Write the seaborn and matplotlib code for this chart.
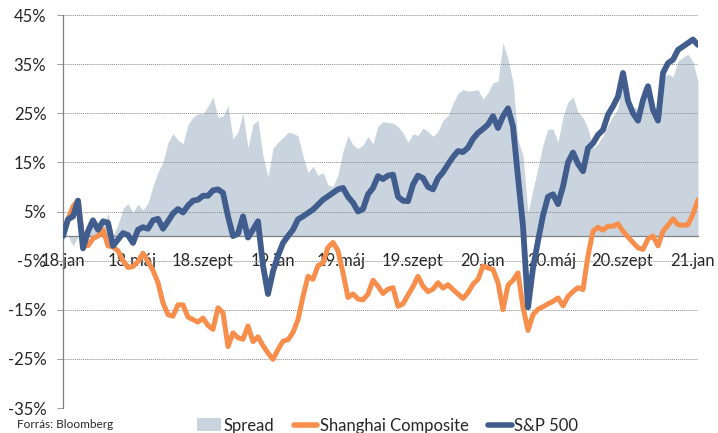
import pandas as pd
import matplotlib
matplotlib.use('Agg')
import matplotlib.pyplot as plt
from matplotlib.patches import Patch
from matplotlib.lines import Line2D
import seaborn as sns

sns.set_style('white')
plt.rcParams['font.family'] = ['Lato', 'DejaVu Sans']

# data (percent change since 2018 jan)
start_date = '2018-01-01'
end_date = '2021-01-11'
n_points = 128

sp500 = [
    0, 3.4, 4, 7.2, -2.5, 1, 3.2, 1.3,
    3, 2.7, -2, -0.7, 0.6, 0.2, -1.4, 1.3,
    1.8, 1.5, 3.2, 3.5, 1.5, 3, 4.6, 5.5,
    4.8, 6.2, 7.2, 7.4, 8.2, 8.2, 9.3, 9.5,
    8.8, 4, 0, 0.5, 4, -0.3, 1.3, 3,
    -6, -11.8, -7.2, -4, -1.4, 0, 1.3, 3.4,
    4, 4.7, 5.4, 6.4, 7.4, 8.1, 8.8, 9.5,
    9.8, 8, 6.8, 5, 5.5, 8.5, 9.8, 12.2,
    11.6, 12.3, 12.5, 8, 7.2, 7.1, 10.5, 12.3,
    11.8, 10, 9.5, 11.8, 13, 14.6, 16.1, 17.3,
    17.1, 18, 19.8, 21, 21.8, 22.7, 24.4, 22,
    24.4, 26, 22.3, 12, 2, -14.5, -6.5, -1,
    4.2, 8, 8.5, 6.5, 10.1, 15, 17, 14.7,
    13.2, 17.9, 18.9, 20.6, 21.6, 24.7, 26.4, 28.4,
    33.2, 27.5, 25, 23.5, 27.7, 30.5, 25.7, 23.5,
    33.2, 35.2, 35.9, 37.9, 38.6, 39.3, 40, 38.9,
]

shanghai = [
    0, 3.4, 6, 7.3, -1, -2, -0.5, 0,
    1.3, -2, -2.2, -3, -5, -6.4, -6.2, -5.2,
    -3.5, -5.2, -7, -9.5, -13.6, -16, -16.3, -14,
    -14, -16.5, -17, -17.5, -16.7, -18.2, -19, -14.6,
    -15.6, -22.5, -19.7, -20.7, -21, -18.3, -21.5, -20.5,
    -22.3, -23.8, -25.1, -23.1, -21.4, -21.1, -19.6, -17,
    -12.3, -8.2, -8.8, -6, -5.5, -2.3, -1.3, -3,
    -7.5, -12.5, -11.8, -12.8, -13, -11.8, -9, -10.2,
    -11.7, -10.8, -10.5, -14.3, -13.8, -12, -10.3, -8.2,
    -10.2, -11.3, -10.8, -9.5, -10.6, -9.9, -10.9, -11.8,
    -12.7, -11.5, -9.8, -8.8, -6.1, -6.5, -6.8, -9.5,
    -15, -10, -9, -7.5, -14.5, -19.2, -16, -14.9,
    -14.4, -13.8, -13.3, -12.6, -14.2, -12.3, -11.3, -10.5,
    -10.9, -4, 1, 1.8, 1.2, 2, 2, 2.5,
    1, -0.2, -1.3, -2.4, -2.7, -0.6, 0, -2,
    1, 2.2, 3.5, 2.3, 2.2, 2.3, 4.5, 7.4,
]

spread = [
    0, 0, -2, -0.1, -1.5, 3, 3.7, 1.3,
    1.7, 4.7, 0.2, 2.3, 5.6, 6.6, 4.8, 6.5,
    5.3, 6.7, 10.2, 13, 15.1, 19, 20.9, 19.5,
    18.8, 22.7, 24.2, 24.9, 24.9, 26.4, 28.3, 24.1,
    24.4, 26.5, 19.7, 21.2, 25, 18, 22.8, 23.5,
    16.3, 12, 17.9, 19.1, 20, 21.1, 20.9, 20.4,
    16.3, 12.9, 14.2, 12.4, 12.9, 10.4, 10.1, 12.5,
    17.3, 20.5, 18.6, 17.8, 18.5, 20.3, 18.8, 22.4,
    23.3, 23.1, 23, 22.3, 21, 19.1, 20.8, 20.5,
    22, 21.3, 20.3, 21.3, 23.6, 24.5, 27, 29.1,
    29.8, 29.5, 29.6, 29.8, 27.9, 29.2, 31.2, 31.5,
    39.4, 36, 31.3, 19.5, 16.5, 4.7, 9.5, 13.9,
    18.6, 21.8, 21.8, 19.1, 24.3, 27.3, 28.3, 25.2,
    24.1, 21.9, 17.9, 18.8, 20.4, 22.7, 24.4, 25.9,
    32.2, 27.7, 26.3, 25.9, 30.4, 31.1, 25.7, 25.5,
    32.2, 33, 32.4, 35.6, 36.4, 37, 35.5, 31.5,
]

tick_dates = ['2018-01-01', '2018-05-01', '2018-09-01', '2019-01-01', '2019-05-01',
              '2019-09-01', '2020-01-01', '2020-05-01', '2020-09-01', '2021-01-01']
tick_labels = ['18.jan', '18.máj', '18.szept', '19.jan', '19.máj',
               '19.szept', '20.jan', '20.máj', '20.szept', '21.jan']
y_ticks = [-35, -25, -15, -5, 5, 15, 25, 35, 45]

col_spread = '#cad4df'
col_sh = '#f78e4b'
col_sp = '#405d8e'
col_text = '#262626'

df = pd.DataFrame({
    'date': pd.date_range(start_date, end_date, periods=n_points),
    'sp': sp500,
    'sh': shanghai,
    'spread': spread,
})

fig = plt.figure(figsize=(7.18, 4.33), dpi=100)
ax = fig.add_axes([63 / 718, 1 - 408 / 433, 635 / 718, 393 / 433])

ax.fill_between(df['date'], 0, df['spread'], color=col_spread, lw=0, zorder=0.3)
sns.lineplot(data=df, x='date', y='sh', color=col_sh, lw=3.6, ax=ax, zorder=3,
             solid_joinstyle='round', solid_capstyle='round')
sns.lineplot(data=df, x='date', y='sp', color=col_sp, lw=4.2, ax=ax, zorder=4,
             solid_joinstyle='round', solid_capstyle='round')

ax.set_ylim(-35, 45)
ax.set_yticks(y_ticks)
ax.set_yticklabels(['{}%'.format(v) for v in y_ticks])
ax.set_xlim(df['date'].iloc[0], df['date'].iloc[-1])
ax.set_xticks(pd.to_datetime(tick_dates))
ax.set_xticklabels(tick_labels)
ax.set_xlabel('')
ax.set_ylabel('')

ax.spines['top'].set_visible(False)
ax.spines['right'].set_visible(False)
ax.spines['bottom'].set_position(('data', 0))
for s in ['left', 'bottom']:
    ax.spines[s].set_color('#808080')
    ax.spines[s].set_linewidth(0.9)

ax.tick_params(axis='x', direction='inout', length=7, width=0.9, color='#808080',
               pad=8.5, labelsize=12, labelcolor=col_text)
ax.tick_params(axis='y', direction='out', length=4, width=0.7, color='#9a9a9a',
               pad=8, labelsize=12, labelcolor=col_text, left=True)
ax.yaxis.grid(True, linestyle=(0, (1, 1)), color='#8a8a8a', linewidth=0.7)
ax.xaxis.grid(False)
ax.set_axisbelow(True)

handles = [
    Patch(facecolor=col_spread, edgecolor='none'),
    Line2D([], [], color=col_sh, lw=4),
    Line2D([], [], color=col_sp, lw=4),
]
fig.legend(handles, ['Spread', 'Shanghai Composite', 'S&P 500'], loc='center',
           bbox_to_anchor=(0.54, 0.017), ncol=3, frameon=False, fontsize=12,
           handlelength=1.4, handleheight=0.8, handletextpad=0.15, columnspacing=1.2,
           labelcolor=col_text)

fig.text(17 / 718, 1 - 424 / 433, 'Forrás: Bloomberg', fontsize=8.5, va='center',
         color=col_text)

fig.savefig('out.png', dpi=100)
